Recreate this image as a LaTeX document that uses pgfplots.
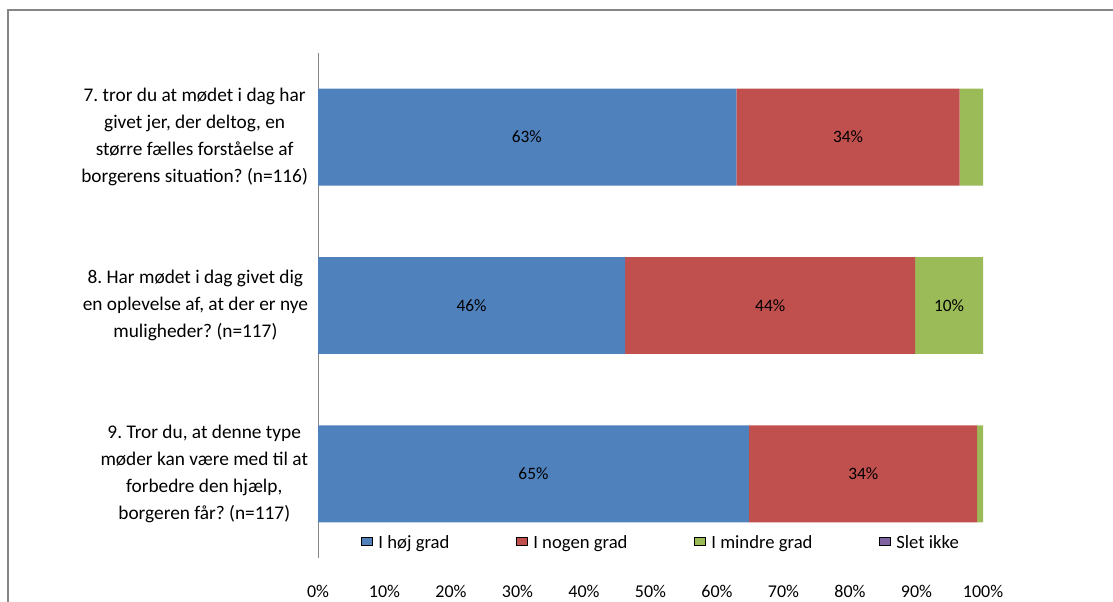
\documentclass[border=0pt]{standalone}
\usepackage{fontspec}
\setmainfont{Carlito}
\usepackage{pgfplots}
\usepackage{pgfplotstable}
\pgfplotsset{compat=1.18}
\frenchspacing
\definecolor{cblue}{HTML}{4F81BD}
\definecolor{cred}{HTML}{C0504D}
\definecolor{cgreen}{HTML}{9BBB59}
\definecolor{cpurple}{HTML}{8064A2}
\definecolor{cline}{HTML}{868686}
\pgfplotsset{/pgfplots/xbar legend/.style={/pgfplots/legend image code/.code={\path[##1, draw=none] (0pt,-3.6pt) rectangle (7.2pt,3.6pt);}}}

% values in percent; y positions: 2.5 = question 7, 1.5 = question 8, 0.5 = question 9
\pgfplotstableread{
y   hoej  nogen  mindre  slet
0.5 64.8  34.3   0.9     0
1.5 46.2  43.6   10.2    0
2.5 62.9  33.6   3.5     0
}\datatable

\pgfplotstableread{
x    y    label
31.4 2.5  63\%
79.7 2.5  34\%
23.1 1.5  46\%
68.0 1.5  44\%
94.9 1.5  10\%
32.4 0.5  65\%
82.0 0.5  34\%
}\labeltable

\begin{document}
\begin{tikzpicture}
\path[use as bounding box] (0pt,0pt) rectangle (834.75pt,451.5pt);
\draw[color=cline, line width=1.1pt] (6pt,0pt) -- (6pt,444pt) -- (834.75pt,444pt);
\begin{axis}[
  at={(238.5pt,33pt)}, anchor=south west,
  width=498.75pt, height=378.75pt, scale only axis,
  xbar stacked, bar width=0.576,
  xmin=0, xmax=100, ymin=0, ymax=3,
  axis line style={draw=none},
  major tick length=0pt,
  xtick={0,10,...,100},
  xticklabels={0\%,10\%,20\%,30\%,40\%,50\%,60\%,70\%,80\%,90\%,100\%},
  xticklabel style={font=\fontsize{13.5}{16}\selectfont, yshift=-17pt},
  ytick={0.5,1.5,2.5},
  yticklabels={
    {9. Tror du, at denne type\\møder kan være med til at\\forbedre den hjælp,\\borgeren får? (n=117)},
    {8. Har mødet i dag givet dig\\en oplevelse af, at der er nye\\muligheder? (n=117)},
    {7. tror du at mødet i dag har\\givet jer, der deltog, en\\større fælles forståelse af\\borgerens situation? (n=116)}},
  yticklabel style={align=center, font=\fontsize{14.5}{20.25}\selectfont, anchor=east, xshift=-4pt},
  legend columns=4,
  legend cell align=left,
  legend style={at={(rel axis cs:0.0647,0.0297)}, anchor=west, draw=none, fill=none, inner sep=0pt,
    font=\fontsize{14}{16}\selectfont,
    /tikz/every odd column/.append style={column sep=2.5pt},
    /tikz/every even column/.append style={column sep=48pt}},
]
\addplot[fill=cblue, draw=none] table[x=hoej, y=y] {\datatable};
\addplot[fill=cred, draw=none] table[x=nogen, y=y] {\datatable};
\addplot[fill=cgreen, draw=none] table[x=mindre, y=y] {\datatable};
\addplot[fill=cpurple, draw=none] table[x=slet, y=y] {\datatable};
\legend{I høj grad, I nogen grad, I mindre grad, Slet ikke}
\draw[color=cline, line width=0.8pt] (rel axis cs:0,0) -- (rel axis cs:0,1);
\end{axis}
\begin{axis}[
  at={(238.5pt,33pt)}, anchor=south west,
  width=498.75pt, height=378.75pt, scale only axis,
  xmin=0, xmax=100, ymin=0, ymax=3, hide axis,
]
\addplot[only marks, mark=text, text mark={}, mark options={opacity=0},
  nodes near coords, point meta=explicit symbolic,
  every node near coord/.append style={anchor=center, font=\fontsize{13}{15}\selectfont, text=black, opacity=1}]
  table[x=x, y=y, meta=label] {\labeltable};
\end{axis}
\end{tikzpicture}
\end{document}
